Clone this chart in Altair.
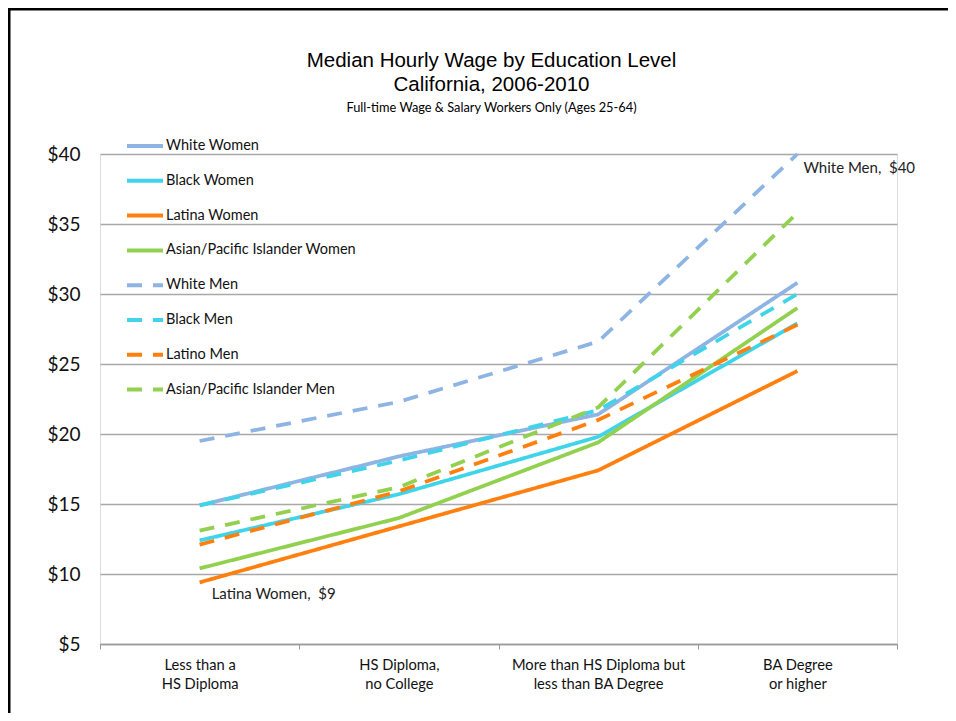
import altair as alt
import pandas as pd

categories = [
    "Less than a|HS Diploma",
    "HS Diploma,|no College",
    "More than HS Diploma but|less than BA Degree",
    "BA Degree|or higher",
]
series_names = [
    "White Women", "Black Women", "Latina Women", "Asian/Pacific Islander Women",
    "White Men", "Black Men", "Latino Men", "Asian/Pacific Islander Men",
]
white_women = [14.9, 18.4, 21.4, 30.8]
black_women = [12.4, 15.7, 19.8, 27.9]
latina_women = [9.4, 13.4, 17.4, 24.5]
asian_women = [10.4, 14.0, 19.4, 29.0]
white_men = [19.5, 22.3, 26.6, 40.0]
black_men = [14.9, 18.1, 21.7, 30.0]
latino_men = [12.1, 15.9, 21.0, 27.8]
asian_men = [13.1, 16.2, 21.9, 35.8]

colors = ["#8DB4E2", "#3FD4EA", "#FF7F0F", "#92D050",
          "#8DB4E2", "#3FD4EA", "#FF7F0F", "#92D050"]
dashes = [[1, 0]] * 4 + [[15, 11]] * 4

all_series = [white_women, black_women, latina_women, asian_women,
              white_men, black_men, latino_men, asian_men]
rows = []
for i, (name, vals) in enumerate(zip(series_names, all_series)):
    for j, (cat, v) in enumerate(zip(categories, vals)):
        rows.append({"series": name, "order": i, "category": cat, "wage": v})
df = pd.DataFrame(rows)

LABEL_FONT = "Lato"

x_enc = alt.X(
    "category:N",
    sort=categories,
    title=None,
    scale=alt.Scale(type="band", paddingInner=0, paddingOuter=0),
    axis=alt.Axis(
        labelExpr="split(datum.label, '|')",
        labelFont=LABEL_FONT, labelFontSize=14.7, labelColor="#111",
        labelLineHeight=19.5, labelPadding=8, labelAngle=0,
        tickBand="extent", ticks=True, tickSize=5, tickColor="#999",
        domainColor="#999", domainWidth=1.5, grid=False,
    ),
)
y_enc = alt.Y(
    "wage:Q",
    title=None,
    scale=alt.Scale(domain=[5, 40], nice=False, zero=False),
    axis=alt.Axis(
        values=[5, 10, 15, 20, 25, 30, 35, 40], format="$,.0f",
        labelFont=LABEL_FONT, labelFontSize=19, labelColor="#111",
        labelPadding=20, ticks=False, domain=False,
        grid=True, gridColor="#A8A8A8", gridWidth=1.5,
    ),
)

legend = alt.Legend(
    orient="none", legendX=25, legendY=-28, direction="vertical",
    symbolType="stroke", symbolSize=1296, symbolStrokeWidth=4,
    labelFont=LABEL_FONT, labelFontSize=14.5, labelColor="#111",
    labelOffset=1, rowPadding=6.8, labelLimit=400,
)

lines = alt.Chart(df).mark_line(strokeWidth=3.75, strokeCap="butt").encode(
    x=x_enc,
    y=y_enc,
    color=alt.Color("series:N", title=None, sort=series_names,
                    scale=alt.Scale(domain=series_names, range=colors), legend=legend),
    strokeDash=alt.StrokeDash("series:N", title=None, sort=series_names,
                              scale=alt.Scale(domain=series_names, range=dashes), legend=legend),
    order="order:Q",
)

ann_base = alt.Chart(df).transform_calculate(
    label="datum.series + ',\u00a0 $' + format(datum.wage, '.0f')"
)
ann_white = ann_base.transform_filter(
    (alt.datum.series == "White Men") & (alt.datum.category == categories[3])
).mark_text(align="left", baseline="middle", dx=6, dy=14,
            font=LABEL_FONT, fontSize=15, color="#222").encode(
    x=alt.X("category:N", sort=categories), y="wage:Q", text="label:N")
ann_latina = ann_base.transform_filter(
    (alt.datum.series == "Latina Women") & (alt.datum.category == categories[0])
).mark_text(align="left", baseline="middle", dx=12, dy=12,
            font=LABEL_FONT, fontSize=15, color="#222").encode(
    x=alt.X("category:N", sort=categories), y="wage:Q", text="label:N")

frame = alt.Chart(alt.Data(values=[{}])).mark_rect(
    fill="transparent", stroke="black", strokeWidth=3
).encode(
    x=alt.value(-91), y=alt.value(-145), x2=alt.value(1200), y2=alt.value(1200)
)

chart = alt.layer(lines, ann_white, ann_latina, frame).properties(
    width=797, height=490,
    autosize=alt.AutoSizeParams(type="none"),
    padding={"left": 92, "top": 146, "right": 51, "bottom": 69},
    title=alt.TitleParams(
        text=["Median Hourly Wage by Education Level", "California, 2006-2010"],
        subtitle="Full-time Wage & Salary Workers Only (Ages 25-64)",
        font="Liberation Sans", fontSize=20.5, fontWeight="normal", color="#000",
        lineHeight=24, subtitleFont=LABEL_FONT, subtitleFontSize=12.8,
        subtitleColor="#000", subtitlePadding=6, anchor="middle", dx=-7, offset=-107,
    ),
).configure_view(stroke=None).configure(background="white")

chart.save("out.html", embed_options={"renderer": "svg", "actions": False})
